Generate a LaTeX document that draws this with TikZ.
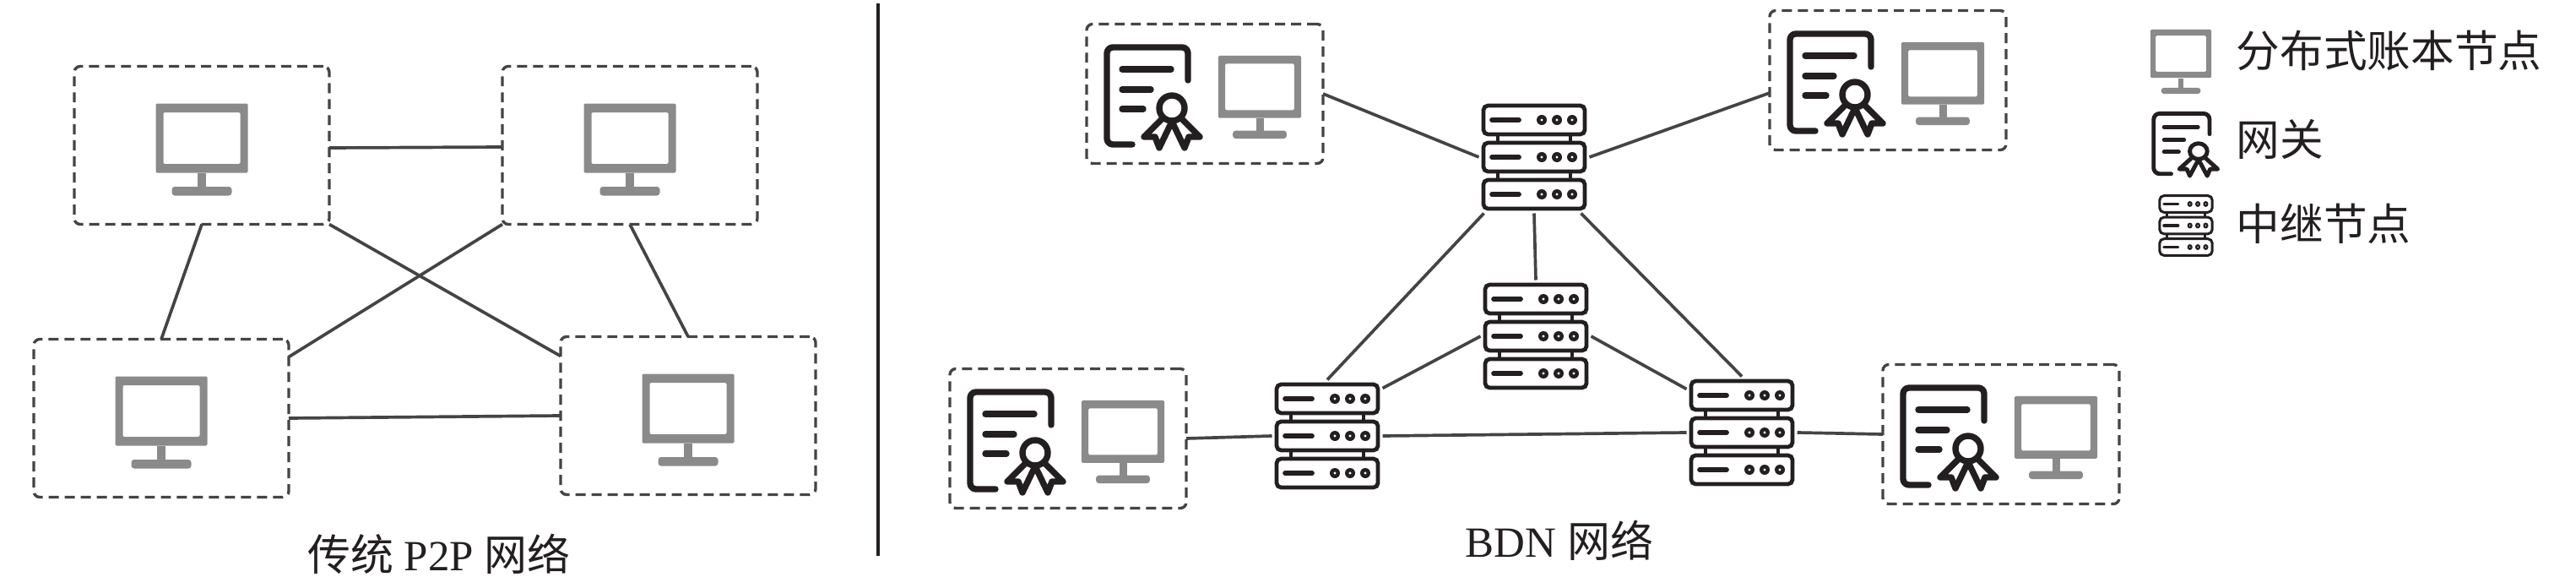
\documentclass[tikz,border=0pt]{standalone}
\usepackage{fontspec}
\setmainfont{Liberation Serif}
\newfontfamily\cjk{Noto Sans CJK SC}
\definecolor{icongray}{HTML}{8A8A8A}
\definecolor{iconblack}{HTML}{231F20}
\definecolor{linkgray}{HTML}{444444}
\tikzset{
  peerbox/.style={draw=linkgray, line width=.95pt, dash pattern=on 3.4pt off 2pt, rounded corners=2pt, minimum width=3.02cm, minimum height=1.87cm, inner sep=0pt, outer sep=0pt},
  gatebox/.style={peerbox, minimum width=2.8cm, minimum height=1.65cm},
  relaybox/.style={minimum width=1.25cm, minimum height=1.27cm, inner sep=0pt, outer sep=.03cm},
  link/.style={draw=linkgray, line width=1.05pt},
  legendtext/.style={anchor=west, inner sep=0pt, text=iconblack, font=\cjk\fontsize{14.7}{17}\selectfont},
  captiontext/.style={inner sep=0pt, text=iconblack, font=\fontsize{14.5}{17}\selectfont},
  pics/monitor/.style={code={
    \fill[icongray, even odd rule, rounded corners=.4pt] (-.545,-.275) rectangle (.545,.545) (-.455,-.17) rectangle (.455,.44);
    \fill[icongray] (-.05,-.28) rectangle (.05,-.46);
    \fill[icongray, rounded corners=1pt] (-.355,-.44) rectangle (.355,-.545);
  }},
  pics/gateway/.style={code={
    \begin{scope}[draw=iconblack, line width=#1, line cap=round, line join=round]
      \draw[rounded corners=2pt] (.42,.2) -- (.42,.59) -- (-.54,.59) -- (-.54,-.56) -- (-.24,-.56);
      \draw (-.36,.33) -- (.22,.33);
      \draw (-.36,.09) -- (-.02,.09);
      \draw (-.36,-.14) -- (-.11,-.14);
      \draw (.23,-.13) circle (.15);
      \draw (.12,-.25) -- (-.1,-.47) -- (.03,-.47) -- (.08,-.6) -- (.21,-.33);
      \draw (.34,-.25) -- (.56,-.47) -- (.43,-.47) -- (.38,-.6) -- (.25,-.33);
    \end{scope}
  }},
  pics/relay/.style={code={
    \foreach \u in {-.44,0,.44} {
      \draw[iconblack, line width=#1, rounded corners=1.5pt] (-.6,\u-.17) rectangle (.6,\u+.17);
      \draw[iconblack, line width=1.2*#1, line cap=round] (-.5,\u) -- (-.18,\u);
      \foreach \d in {.09,.27,.45} {
        \fill[iconblack, even odd rule] (\d,\u) circle (.06) (\d,\u) circle (.018);
      }
    }
    \foreach \v in {-.43,.43} {
      \draw[iconblack, line width=#1] (\v,-.27) -- (\v,-.17) (\v,.17) -- (\v,.27);
    }
  }},
}
\begin{document}
\begin{tikzpicture}
\useasboundingbox (0,0) rectangle (30.51,6.95);

% P2P side
\foreach \id/\x/\y in {pa/2.39/5.23, pb/7.46/5.23, pc/1.91/2.00, pd/8.15/2.03} {
    \node[peerbox] (\id) at (\x,\y) {};
    \pic at ([yshift=-.05cm]\id.center) {monitor};
}
\draw[link] ([yshift=-.03cm]pa.east) -- ([yshift=-.02cm]pb.west);
\draw[link] (pa.south) -- (pc.north);
\draw[link] (pb.south) -- (pd.north);
\draw[link] (pa.south east) -- ([yshift=-.23cm]pd.north west);
\draw[link] (pb.south west) -- ([yshift=-.21cm]pc.north east);
\draw[link] (pc.east) -- (pd.west);

\draw[line width=.95pt, draw=iconblack] (10.4,.37) -- (10.4,6.91);

% BDN side
\foreach \id/\x/\y in {ga/14.27/5.84, gb/22.36/6.00, gc/12.65/1.76, gd/23.70/1.81} {
    \node[gatebox] (\id) at (\x,\y) {};
    \pic at ([xshift=-.62cm,yshift=-.04cm]\id.center) {gateway=2.1pt};
    \pic[scale=.9] at ([xshift=.65cm,yshift=-.04cm]\id.center) {monitor};
}
\foreach \id/\x/\y in {ra/18.17/5.09, rb/18.19/2.97, rc/15.72/1.79, rd/20.63/1.83} {
    \node[relaybox] (\id) at (\x,\y) {};
    \pic at (\id.center) {relay=1.35pt};
}
\draw[link] (ga.east) -- (ra.west);
\draw[link] ([yshift=-.15cm]gb.west) -- (ra.east);
\draw[link] (gc.east) -- (rc.west);
\draw[link] (rd.east) -- (gd.west);
\draw[link] (ra.south) -- (rb.north);
\draw[link] ([xshift=.06cm]ra.south west) -- (rc.north);
\draw[link] ([xshift=-.1cm]ra.south east) -- (rd.north);
\draw[link] (rb.west) -- ([yshift=-.1cm]rc.north east);
\draw[link] (rb.east) -- ([yshift=-.15cm]rd.north west);
\draw[link] (rc.east) -- (rd.west);

% legend
\pic[xscale=.66, yscale=.7] at (25.83,6.22) {monitor};
\pic[xscale=.69, yscale=.62] at (25.88,5.24) {gateway=1.4pt};
\pic[xscale=.52, yscale=.58] at (25.89,4.28) {relay=.85pt};
\node[legendtext] (lga) at (26.48,6.35) {分布式账本节点};
\node[legendtext] (lgb) at (26.48,5.30) {网关};
\node[legendtext] (lgc) at (26.48,4.30) {中继节点};

\node[captiontext] (capa) at (5.20,.39) {{\cjk 传统} P2P {\cjk 网络}};
\node[captiontext] (capb) at (18.47,.55) {BDN {\cjk 网络}};
\end{tikzpicture}
\end{document}
